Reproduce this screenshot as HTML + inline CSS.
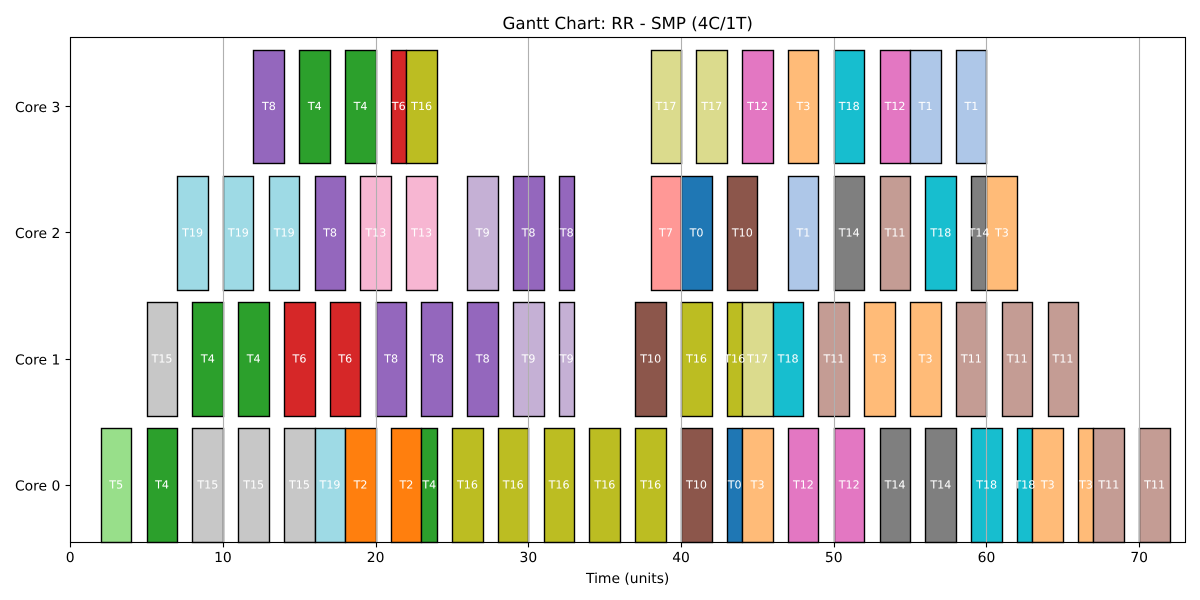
<!DOCTYPE html>
<html lang="en">
<head>
<meta charset="utf-8">
<title>Gantt Chart: RR - SMP (4C/1T)</title>
<style>
html,body{margin:0;padding:0;background:#fff;width:1200px;height:600px;overflow:hidden}
svg{display:block}
text{font-family:"DejaVu Sans","Liberation Sans",sans-serif;fill:#000;text-rendering:geometricPrecision}
</style>
</head>
<body>
<svg id="chart" xmlns="http://www.w3.org/2000/svg" width="1200" height="600" viewBox="0 0 1200 600">
  <rect x="0" y="0" width="1200" height="600" fill="#fff"/>
  <g id="bars"></g>
  <g id="grid"></g>
  <g id="labels"></g>
  <g id="ticks"></g>
  <rect x="70.5" y="37.5" width="1115" height="505" fill="none" stroke="#000" stroke-width="1.11"/>
  <text x="627.7" y="29" font-size="16.67" text-anchor="middle">Gantt Chart: RR - SMP (4C/1T)</text>
  <text x="627.7" y="583" font-size="13.89" text-anchor="middle">Time (units)</text>
</svg>
<script>
const xTicks = [0, 10, 20, 30, 40, 50, 60, 70];
const coreLabels = ["Core 0", "Core 1", "Core 2", "Core 3"];
const taskColors = ["#1f77b4", "#aec7e8", "#ff7f0e", "#ffbb78", "#2ca02c", "#98df8a", "#d62728", "#ff9896", "#9467bd", "#c5b0d5", "#8c564b", "#c49c94", "#e377c2", "#f7b6d2", "#7f7f7f", "#c7c7c7", "#bcbd22", "#dbdb8d", "#17becf", "#9edae5"];

const core0Tasks = [5, 4, 15, 15, 15, 19, 2, 2, 4, 16, 16, 16, 16, 16, 10, 0, 3, 12, 12, 14, 14, 18, 18, 3, 3, 11, 11];
const core0Starts = [2, 5, 8, 11, 14, 16, 18, 21, 23, 25, 28, 31, 34, 37, 40, 43, 44, 47, 50, 53, 56, 59, 62, 63, 66, 67, 70];
const core0Ends = [4, 7, 10, 13, 16, 18, 20, 23, 24, 27, 30, 33, 36, 39, 42, 44, 46, 49, 52, 55, 58, 61, 63, 65, 67, 69, 72];

const core1Tasks = [15, 4, 4, 6, 6, 8, 8, 8, 9, 9, 10, 16, 16, 17, 18, 11, 3, 3, 11, 11, 11];
const core1Starts = [5, 8, 11, 14, 17, 20, 23, 26, 29, 32, 37, 40, 43, 44, 46, 49, 52, 55, 58, 61, 64];
const core1Ends = [7, 10, 13, 16, 19, 22, 25, 28, 31, 33, 39, 42, 44, 46, 48, 51, 54, 57, 60, 63, 66];

const core2Tasks = [19, 19, 19, 8, 13, 13, 9, 8, 8, 7, 0, 10, 1, 14, 11, 18, 14, 3];
const core2Starts = [7, 10, 13, 16, 19, 22, 26, 29, 32, 38, 40, 43, 47, 50, 53, 56, 59, 60];
const core2Ends = [9, 12, 15, 18, 21, 24, 28, 31, 33, 40, 42, 45, 49, 52, 55, 58, 60, 62];

const core3Tasks = [8, 4, 4, 6, 16, 17, 17, 12, 3, 18, 12, 1, 1];
const core3Starts = [12, 15, 18, 21, 22, 38, 41, 44, 47, 50, 53, 55, 58];
const core3Ends = [14, 17, 20, 22, 24, 40, 43, 46, 49, 52, 55, 57, 60];

const coreTasks = [core0Tasks, core1Tasks, core2Tasks, core3Tasks];
const coreStarts = [core0Starts, core1Starts, core2Starts, core3Starts];
const coreEnds = [core0Ends, core1Ends, core2Ends, core3Ends];

const NS = "http://www.w3.org/2000/svg";
const xScale = v => 70.21 + v * 15.271;
const yScale = c => 485.15 - c * 126.15;
const snap = p => Math.floor(p + 0.5) + 0.5;
const halfBar = 0.4495;

const barsLayer = document.getElementById("bars");
const gridLayer = document.getElementById("grid");
const labelsLayer = document.getElementById("labels");
const ticksLayer = document.getElementById("ticks");

function line(parent, x1, y1, x2, y2, color, width) {
  const el = document.createElementNS(NS, "line");
  el.setAttribute("x1", x1);
  el.setAttribute("y1", y1);
  el.setAttribute("x2", x2);
  el.setAttribute("y2", y2);
  el.setAttribute("stroke", color);
  el.setAttribute("stroke-width", width);
  parent.appendChild(el);
  return el;
}

function label(parent, x, y, size, anchor, color, content) {
  const el = document.createElementNS(NS, "text");
  el.setAttribute("x", x);
  el.setAttribute("y", y);
  el.setAttribute("font-size", size);
  el.setAttribute("text-anchor", anchor);
  el.style.fill = color;
  el.textContent = content;
  parent.appendChild(el);
  return el;
}

coreTasks.forEach(function (tasks, core) {
  const top = snap(yScale(core + halfBar));
  const bottom = snap(yScale(core - halfBar));
  tasks.forEach(function (task, i) {
    const x1 = snap(xScale(coreStarts[core][i]));
    const x2 = snap(xScale(coreEnds[core][i]));
    const bar = document.createElementNS(NS, "rect");
    bar.setAttribute("x", x1);
    bar.setAttribute("y", top);
    bar.setAttribute("width", x2 - x1);
    bar.setAttribute("height", bottom - top);
    bar.setAttribute("fill", taskColors[task]);
    bar.setAttribute("stroke", "#000");
    bar.setAttribute("stroke-width", "1.39");
    
    
    barsLayer.appendChild(bar);

    const mid = xScale((coreStarts[core][i] + coreEnds[core][i]) / 2) + 0.2;
    const text = label(labelsLayer, mid, yScale(core) + 3.4, 11.11, "middle", "#fff", "T" + task);
    
    
  });
});

xTicks.forEach(function (tick) {
  const x = snap(xScale(tick));
  const gridline = line(gridLayer, x, 37.5, x, 542.5, "#b0b0b0", 1.11);
  
  
  const mark = line(ticksLayer, x, 542.5, x, 547.4, "#000", 1.11);
  
  
  const text = label(ticksLayer, xScale(tick), 562, 13.89, "middle", "#000", String(tick));
  
  
});

coreLabels.forEach(function (name, core) {
  const y = snap(yScale(core) - 0.5);
  const mark = line(ticksLayer, 65.6, y, 70.5, y, "#000", 1.11);
  
  
  const text = label(ticksLayer, 60.3, yScale(core) + 5.3, 13.89, "end", "#000", name);
  
  
});
</script>
</body>
</html>
